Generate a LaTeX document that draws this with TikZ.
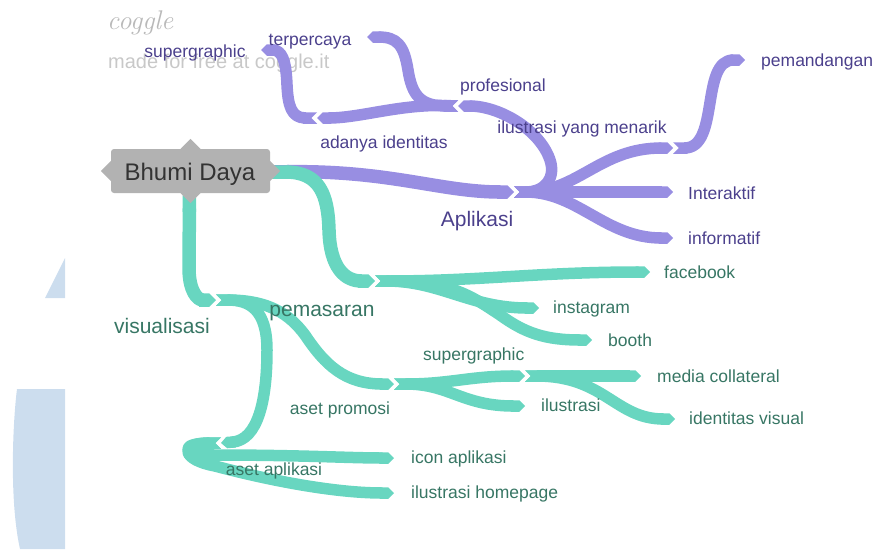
\documentclass[tikz,border=0pt]{standalone}
\usepackage{fontspec}
\setsansfont{Liberation Sans}
\usetikzlibrary{arrows.meta}
\definecolor{pband}{RGB}{152,142,226}
\definecolor{ptext}{RGB}{75,64,140}
\definecolor{tband}{RGB}{104,214,192}
\definecolor{ttext}{RGB}{55,118,100}
\definecolor{rootgray}{RGB}{178,178,178}
\definecolor{roottext}{RGB}{51,51,51}
\definecolor{wmgray}{RGB}{200,200,200}
\definecolor{wmlogo}{RGB}{185,185,185}
\definecolor{bgblue}{RGB}{204,221,238}
\begin{document}
\begin{tikzpicture}[x=1pt,y=-1pt,
  brp/.style={draw=pband, line width=11.5pt, line join=round, {Triangle Cap[reversed]}-{Triangle Cap}},
  brt/.style={draw=tband, line width=11.5pt, line join=round, {Triangle Cap[reversed]}-{Triangle Cap}},
  wide/.style={line width=13.5pt},
  lblp/.style={font=\sffamily\fontsize{17.5}{20}\selectfont, text=ptext, inner sep=0pt, anchor=base west},
  lblpL/.style={font=\sffamily\fontsize{21}{24}\selectfont, text=ptext, inner sep=0pt, anchor=base},
  lblt/.style={font=\sffamily\fontsize{17.5}{20}\selectfont, text=ttext, inner sep=0pt, anchor=base west},
  lbltL/.style={font=\sffamily\fontsize{21}{24}\selectfont, text=ttext, inner sep=0pt, anchor=base},
  rootbox/.style={fill=rootgray, rounded corners=3pt, minimum width=159pt, minimum height=44pt, inner sep=0pt},
  notch/.style={fill=rootgray},
  wmark/.style={text=wmgray, inner sep=0pt, anchor=base west}]
\useasboundingbox (0,0) rectangle (874,549);
% background shapes
\fill[bgblue] (45,298) -- (65,258) -- (65,298) -- cycle;
\fill[bgblue] (65,389) -- (17,389) .. controls (13,420) and (9,500) .. (20,549) -- (65,549) -- cycle;
% watermark
\node[wmark, text=wmlogo, font=\rmfamily\itshape\fontsize{27}{30}\selectfont] (wm1) at (107,29) {coggle};
\node[wmark, font=\sffamily\fontsize{20}{24}\selectfont] (wm2) at (108,68) {made for free at coggle.it};
% coordinates
\coordinate (rR) at (272,172);
\coordinate (rB) at (189.5,195);
\coordinate (A) at (514,192);
\coordinate (I) at (673,192);
\coordinate (F) at (673,238);
\coordinate (M) at (673,148);
\coordinate (P) at (745,60);
\coordinate (Pr) at (458,106);
\coordinate (T) at (367,37);
\coordinate (D) at (317,118);
\coordinate (S) at (261,50);
\coordinate (Pm) at (375,281);
\coordinate (V) at (216,300);
\coordinate (Fb) at (650,272);
\coordinate (Ig) at (539,308);
\coordinate (Bo) at (592,340);
\coordinate (Ap) at (394,384);
\coordinate (As) at (221,443);
\coordinate (Ic) at (394,458);
\coordinate (Ih) at (394,493);
\coordinate (Sg) at (525,376);
\coordinate (Il) at (525,406);
\coordinate (Mc) at (641,376);
\coordinate (Iv) at (675,419);
% purple branches
\draw[brp, wide] (rR) .. controls (390,170) and (440,192) .. (A);
\draw[brp] (A) -- (I);
\draw[brp] (A) .. controls (578,192) and (605,238) .. (F);
\draw[brp] (A) .. controls (578,192) and (600,148) .. (M);
\draw[brp] (M) .. controls (720,148) and (700,60) .. (P);
\draw[brp] (A) .. controls (545,192) and (556,178) .. (550,160) .. controls (540,130) and (500,106) .. (Pr);
\draw[brp] (Pr) .. controls (420,106) and (412,95) .. (408,70) .. controls (404,45) and (397,37) .. (T);
\draw[brp] (Pr) .. controls (400,104) and (360,118) .. (D);
\draw[brp] (D) .. controls (291,118) and (288,105) .. (287,85) .. controls (286,60) and (282,50) .. (S);
% teal branches
\draw[brt, wide] (rR) .. controls (320,172) and (328,195) .. (329,230) .. controls (330,268) and (345,281) .. (Pm);
\draw[brt, wide] (rB) -- (189,268) .. controls (189,292) and (198,300) .. (V);
\draw[brt] (Pm) .. controls (480,281) and (540,272) .. (Fb);
\draw[brt] (Pm) .. controls (440,281) and (470,308) .. (Ig);
\draw[brt] (Pm) .. controls (450,281) and (470,295) .. (500,315) .. controls (525,333) and (545,340) .. (Bo);
\draw[brt] (V) .. controls (270,300) and (290,315) .. (305,335) .. controls (325,365) and (345,384) .. (Ap);
\draw[brt] (V) .. controls (250,300) and (267,310) .. (267,350) .. controls (267,400) and (258,440) .. (As);
\draw[brt] (As) .. controls (180,443) and (180,455) .. (215,455) .. controls (300,455) and (350,458) .. (Ic);
\draw[brt] (As) .. controls (178,443) and (182,460) .. (215,466) .. controls (260,478) and (330,493) .. (Ih);
\draw[brt] (Ap) .. controls (450,384) and (470,376) .. (Sg);
\draw[brt] (Ap) .. controls (450,384) and (462,406) .. (Il);
\draw[brt] (Sg) -- (Mc);
\draw[brt] (Sg) .. controls (605,376) and (615,419) .. (Iv);
% root
\node[rootbox] (root) at (190.5,171) {};
\fill[notch] ([xshift=-10pt]root.north) -- ++(10,-10) -- ++(10,10) -- cycle;
\fill[notch] ([xshift=-10pt]root.south) -- ++(10,10) -- ++(10,-10) -- cycle;
\fill[notch] ([yshift=-10pt]root.west) -- ++(-10,-10) -- ++(10,-10) -- cycle;
\fill[notch] ([yshift=-10pt]root.east) -- ++(10,-10) -- ++(-10,-10) -- cycle;
\node[font=\sffamily\fontsize{24}{28}\selectfont, text=roottext, inner sep=0pt, anchor=base] (rootlbl) at (190,180) {Bhumi Daya};
% purple labels
\node[lblpL] (lAplikasi) at (477,226) {Aplikasi};
\node[lblp] (lInter) at (688,199) {Interaktif};
\node[lblp] (lInfo) at (688,244) {informatif};
\node[lblp, anchor=base] (lIlus) at (582,133) {ilustrasi yang menarik};
\node[lblp] (lPem) at (761,66) {pemandangan};
\node[lblp, anchor=base] (lProf) at (503,91) {profesional};
\node[lblp, anchor=base] (lTer) at (310,45) {terpercaya};
\node[lblp, anchor=base] (lAda) at (384,148) {adanya identitas};
\node[lblp, anchor=base] (lSup) at (195,57) {supergraphic};
% teal labels
\node[lbltL] (lPemas) at (322,316) {pemasaran};
\node[lbltL] (lVis) at (162,333) {visualisasi};
\node[lblt] (lFb) at (664,278) {facebook};
\node[lblt] (lIg) at (553,313) {instagram};
\node[lblt] (lBo) at (608,346) {booth};
\node[lblt] (lSg) at (423,360) {supergraphic};
\node[lblt] (lMc) at (657,382) {media collateral};
\node[lblt] (lIl) at (541,411) {ilustrasi};
\node[lblt] (lIv) at (689,424) {identitas visual};
\node[lblt, anchor=base] (lAp) at (340,414) {aset promosi};
\node[lblt, anchor=base] (lAs) at (274,475) {aset aplikasi};
\node[lblt] (lIc) at (411,463) {icon aplikasi};
\node[lblt] (lIh) at (411,498) {ilustrasi homepage};
\end{tikzpicture}
\end{document}
